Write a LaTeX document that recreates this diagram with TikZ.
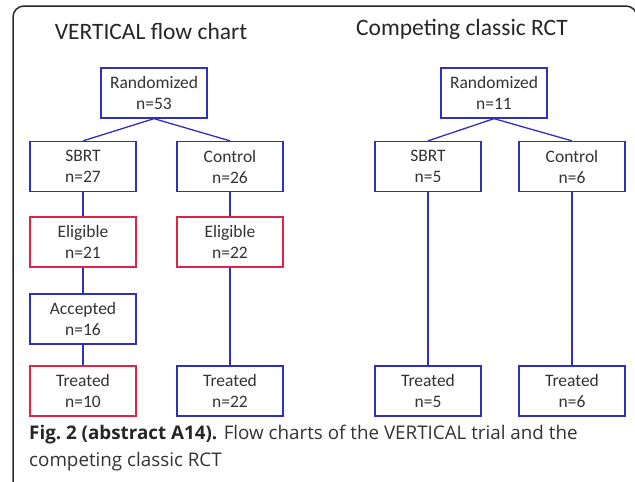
\documentclass[tikz,border=0pt]{standalone}
\usepackage{fontspec}
\setmainfont{Carlito}
\newfontfamily\capfont{Open Sans}
\definecolor{boxblue}{RGB}{48,48,190}
\definecolor{boxred}{RGB}{222,36,72}
\definecolor{framegray}{RGB}{40,40,40}
\tikzset{
  flowbox/.style={draw=boxblue, line width=1.3pt, minimum width=106pt, minimum height=50pt, inner sep=0pt, align=center, font=\fontsize{17.5}{21}\selectfont, text=black!80},
  flowred/.style={flowbox, draw=boxred},
  link/.style={draw=boxblue, line width=1.3pt},
  titletext/.style={font=\fontsize{23.5}{28}\selectfont, text=black!85, anchor=center},
}
\begin{document}
\begin{tikzpicture}[x=1pt,y=-1pt]
\fill[white] (0,0) rectangle (635,482);
\useasboundingbox (0,0) rectangle (635,482);
\draw[framegray, line width=1.5pt] (13,495) -- (13,17) arc[start angle=180, end angle=90, radius=11pt] -- (626,6) arc[start angle=90, end angle=0, radius=11pt] -- (637,495);
\node[titletext] (t1) at (151,31) {VERTICAL flow chart};
\node[titletext] (t2) at (462,29) {Competing classic RCT};
% left chart
\node[flowbox] (r1) at (154,93) {Randomized\\n=53};
\node[flowbox] (s1) at (83,166.5) {SBRT\\n=27};
\node[flowbox] (c1) at (230,166.5) {Control\\n=26};
\node[flowred] (e1) at (83,242) {Eligible\\n=21};
\node[flowred] (e2) at (230,242) {Eligible\\n=22};
\node[flowbox] (a1) at (83,319) {Accepted\\n=16};
\node[flowred] (tr1) at (83,391) {Treated\\n=10};
\node[flowbox] (tr2) at (230,391) {Treated\\n=22};
\draw[link] (r1.south) -- (s1.north);
\draw[link] (r1.south) -- (c1.north);
\draw[link] (s1) -- (e1);
\draw[link] (e1) -- (a1);
\draw[link] (a1) -- (tr1);
\draw[link] (c1) -- (e2);
\draw[link] (e2) -- (tr2);
% right chart
\node[flowbox] (r2) at (494,93) {Randomized\\n=11};
\node[flowbox] (s2) at (428,166.5) {SBRT\\n=5};
\node[flowbox] (c2) at (572,166.5) {Control\\n=6};
\node[flowbox] (tr3) at (428,391) {Treated\\n=5};
\node[flowbox] (tr4) at (572,391) {Treated\\n=6};
\draw[link] (r2.south) -- (s2.north);
\draw[link] (r2.south) -- (c2.north);
\draw[link] (s2) -- (tr3);
\draw[link] (c2) -- (tr4);
% caption
\node[anchor=north west, font=\capfont\fontsize{18.8}{27}\selectfont, text=black!80, align=left, inner sep=0pt] (cap) at (29,425) {{\bfseries\color{black!85}Fig.\ 2 (abstract A14).} Flow charts of the VERTICAL trial and the\\competing classic RCT};
\end{tikzpicture}
\end{document}
